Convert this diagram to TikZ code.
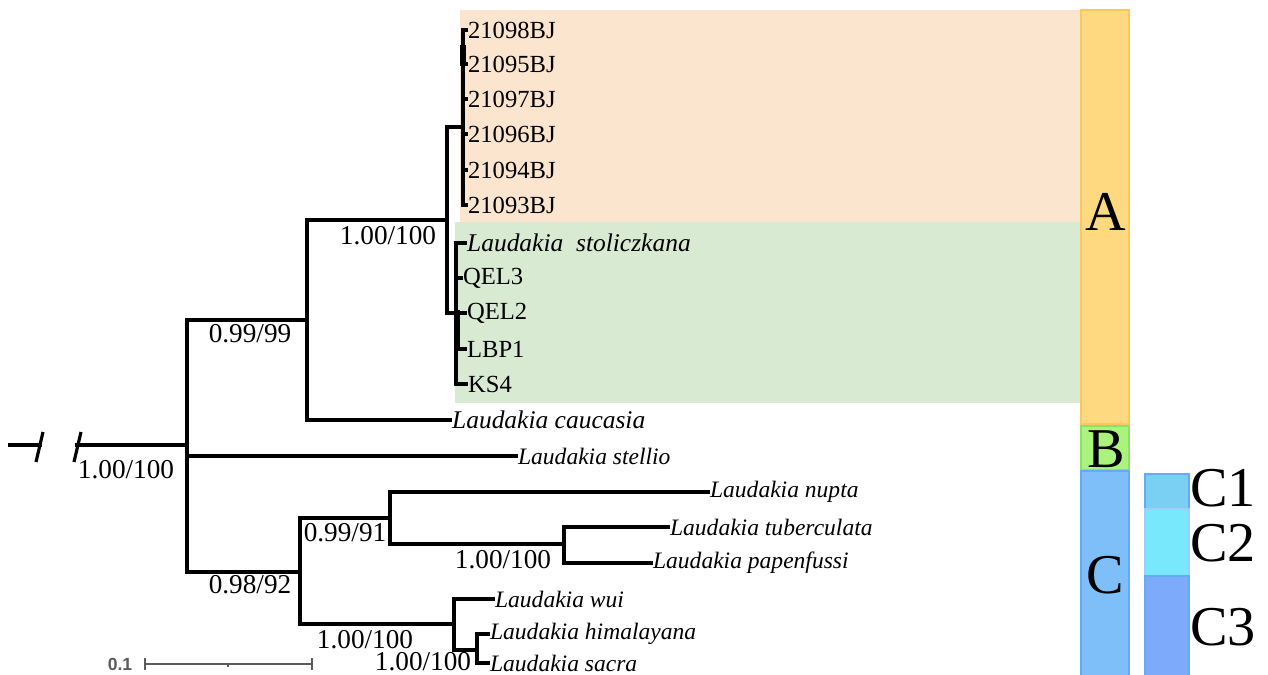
\documentclass[tikz,border=0pt]{standalone}
\usepackage{fontspec}
\setmainfont{Liberation Serif}
\setsansfont{Liberation Sans}
\usepackage{xcolor}
\usetikzlibrary{calc}

\definecolor{peach}{RGB}{252,229,206}
\definecolor{sage}{RGB}{217,234,211}
\definecolor{cladeA}{RGB}{254,217,128}
\definecolor{cladeAline}{RGB}{250,200,95}
\definecolor{cladeB}{RGB}{170,244,125}
\definecolor{cladeBline}{RGB}{140,225,100}
\definecolor{cladeC}{RGB}{126,191,250}
\definecolor{cladeCline}{RGB}{100,170,245}
\definecolor{subCa}{RGB}{122,208,242}
\definecolor{subCb}{RGB}{120,232,252}
\definecolor{subCc}{RGB}{126,170,252}
\definecolor{scalegray}{RGB}{90,90,90}

\begin{document}
\begin{tikzpicture}[x=0.02cm, y=-0.02cm]
    % Styles for branches and labels
    \tikzstyle{branch} = [line width=1.8pt, line cap=rect]
    \tikzstyle{tip} = [anchor=west, inner sep=1pt, font=\fontsize{13.4}{13.4}\selectfont\itshape]
    \tikzstyle{sample} = [anchor=west, inner sep=1pt, font=\fontsize{14}{14}\selectfont]
    \tikzstyle{support} = [inner sep=0pt, font=\fontsize{15.5}{15.5}\selectfont]
    \tikzstyle{clade} = [inner sep=0pt, font=\fontsize{32}{32}\selectfont]
    \tikzstyle{scalebar} = [scalegray, line width=0.9pt]

    \useasboundingbox (0,0) rectangle (1268,675);
    \clip (0,0) rectangle (1268,675);

  % Shaded groups and clade bars
    \fill[peach] (460,10) rectangle (1080,222);
    \fill[sage] (455,222) rectangle (1080,403);
    \draw[cladeAline, fill=cladeA, line width=0.6pt] (1081,10) rectangle (1129,424);
    \draw[cladeBline, fill=cladeB, line width=0.6pt] (1081,426) rectangle (1129,470);
    \draw[cladeCline, fill=cladeC, line width=0.6pt] (1081,471) rectangle (1129,680);
    \draw[cladeCline, fill=subCa, line width=0.6pt] (1145,474) rectangle (1189,509);
    \draw[cladeCline!60, fill=subCb, line width=0.6pt] (1145,509) rectangle (1189,576);
    \draw[cladeCline, fill=subCc, line width=0.6pt] (1145,576) rectangle (1189,680);
    \node[clade] (labA) at (1106,212) {A};
    \node[clade] (labB) at (1106,449) {B};
    \node[clade] (labC) at (1105,575) {C};
    \node[clade, anchor=west] (labC1) at (1190,488) {C1};
    \node[clade, anchor=west] (labC2) at (1190,543) {C2};
    \node[clade, anchor=west] (labC3) at (1190,627) {C3};

  % Internal nodes with explicit coordinates
    \coordinate (stubL) at (10,445);
    \coordinate (stubM) at (40,445);
    \coordinate (stubR) at (77,445);
    \coordinate (root) at (187,445);
    \coordinate (n99) at (307,320);
    \coordinate (nA) at (447,220);
    \coordinate (nBJ) at (463,127);
    \coordinate (nSt) at (456,313);
    \coordinate (n92) at (300,572);
    \coordinate (n91) at (390,518);
    \coordinate (nTP) at (564,544);
    \coordinate (nW) at (454,624);
    \coordinate (nHS) at (477,650);

  % Tips
    \node[sample] (bj98) at (466,30) {21098BJ};
    \node[sample] (bj95) at (466,64) {21095BJ};
    \node[sample] (bj97) at (466,99) {21097BJ};
    \node[sample] (bj96) at (466,134) {21096BJ};
    \node[sample] (bj94) at (466,170) {21094BJ};
    \node[sample] (bj93) at (466,205) {21093BJ};
    \node[tip, font=\fontsize{14.5}{14.5}\selectfont\itshape] (stol) at (465,243) {Laudakia\ \ stoliczkana};
    \node[sample] (qel3) at (461,278) {QEL3};
    \node[sample] (qel2) at (465,313) {QEL2};
    \node[sample] (lbp1) at (465,349) {LBP1};
    \node[sample] (ks4) at (466,384) {KS4};
    \node[tip, font=\fontsize{14.5}{14.5}\selectfont\itshape] (cauc) at (450,420) {Laudakia caucasia};
    \node[tip] (stel) at (516,456) {Laudakia stellio};
    \node[tip] (nupt) at (708,492) {Laudakia nupta};
    \node[tip] (tube) at (668,527) {Laudakia tuberculata};
    \node[tip] (pape) at (651,563) {Laudakia papenfussi};
    \node[tip] (wui) at (493,599) {Laudakia wui};
    \node[tip] (hima) at (488,634) {Laudakia himalayana};
    \node[tip] (sacr) at (488,663) {Laudakia sacra};

  % Branches
    \draw[branch] (stubL) -- (stubM);
    \draw[branch] (stubR) -- (root);
    \coordinate (sl1a) at (43,432);
    \coordinate (sl1b) at (36,462);
    \coordinate (sl2a) at (81,432);
    \coordinate (sl2b) at (74,462);
    \draw[branch, line cap=butt] (sl1a) -- (sl1b);
    \draw[branch, line cap=butt] (sl2a) -- (sl2b);

    \draw[branch] (root) |- (n99);
    \draw[branch] (root) |- (stel.west);
    \draw[branch] (root) |- (n92);
    \draw[branch] (n99) |- (nA);
    \draw[branch] (n99) |- (cauc.west);
    \draw[branch] (nA) |- (nBJ);
    \draw[branch] (nA) |- (nSt);
    \draw[branch] (nBJ) |- (bj98.west);
    \draw[branch] (nBJ) |- (bj95.west);
    \draw[branch] (nBJ) |- (bj97.west);
    \draw[branch] (nBJ) |- (bj96.west);
    \draw[branch] (nBJ) |- (bj94.west);
    \draw[branch] (nBJ) |- (bj93.west);
    \draw[branch] (nSt) |- (stol.west);
    \draw[branch] (nSt) |- (qel3.west);
    \draw[branch] (nSt) |- (qel2.west);
    \draw[branch] (nSt) |- (lbp1.west);
    \draw[branch] (nSt) |- (ks4.west);
    \coordinate (bjk1) at (463,45);
    \coordinate (bjk2) at (463,66);
    \coordinate (stk1) at (457,310);
    \coordinate (stk2) at (457,350);
    \draw[line width=3.2pt] (bjk1) -- (bjk2);
    \draw[line width=3.2pt] (stk1) -- (stk2);

    \draw[branch] (n92) |- (n91);
    \draw[branch] (n92) |- (nW);
    \draw[branch] (n91) |- (nupt.west);
    \draw[branch] (n91) |- (nTP);
    \draw[branch] (nTP) |- (tube.west);
    \draw[branch] (nTP) |- (pape.west);
    \draw[branch] (nW) |- (wui.west);
    \draw[branch] (nW) |- (nHS);
    \draw[branch] (nHS) |- (hima.west);
    \draw[branch] (nHS) |- (sacr.west);

  % Support values
    \node[support] (sRoot) at (126,470) {1.00/100};
    \node[support] (s99) at (250,334) {0.99/99};
    \node[support] (sA) at (388,236) {1.00/100};
    \node[support] (s92) at (250,585) {0.98/92};
    \node[support] (s91) at (345,533) {0.99/91};
    \node[support] (sTP) at (503,560) {1.00/100};
    \node[support] (sW) at (365,640) {1.00/100};
    \node[support] (sHS) at (423,662) {1.00/100};

  % Scale bar
    \coordinate (sbL) at (145,664);
    \coordinate (sbM) at (228,664);
    \coordinate (sbR) at (312,664);
    \node[scalegray, font=\sffamily\bfseries\fontsize{10}{10}\selectfont] (sbT) at (120,664) {0.1};
    \draw[scalebar] (sbL) -- (sbR);
    \draw[scalebar] ($(sbL)+(0,-6)$) -- ($(sbL)+(0,6)$);
    \draw[scalebar] ($(sbR)+(0,-6)$) -- ($(sbR)+(0,6)$);
    \draw[scalebar] (sbM) -- ($(sbM)+(0,3)$);

\end{tikzpicture}
\end{document}
